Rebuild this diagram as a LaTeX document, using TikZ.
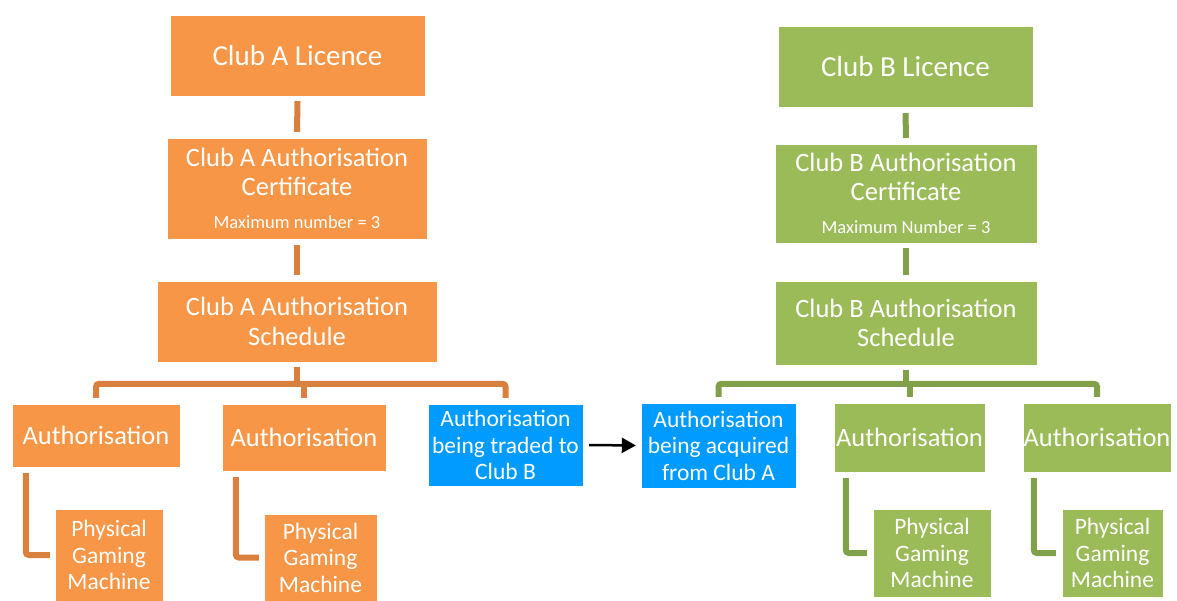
\documentclass[tikz,border=0pt]{standalone}
\usepackage{fontspec}
\setmainfont{Carlito}
\usetikzlibrary{arrows.meta}
\tikzset{>={Triangle[width=15pt,length=14pt]}}
\definecolor{orangefill}{HTML}{F79646}
\definecolor{orangeline}{HTML}{D9803F}
\definecolor{greenfill}{HTML}{9BBB59}
\definecolor{greenline}{HTML}{81A04A}
\definecolor{tradefill}{HTML}{009BFF}

\begin{document}
\begin{tikzpicture}[x=1pt, y=-1pt,
	clubbox/.style = {rectangle, inner sep=0pt, align=center, text=white, draw=white, line width=0.4pt},
	big/.style = {font=\fontsize{29}{32}\selectfont},
	mid/.style = {font=\fontsize{26.5}{29.5}\selectfont},
	sml/.style = {font=\fontsize{23.5}{26.5}\selectfont},
	abox/.style = {clubbox, fill=orangefill},
	bbox/.style = {clubbox, fill=greenfill},
	tbox/.style = {clubbox, fill=tradefill},
	alink/.style = {line width=6pt, orangeline, rounded corners=3pt},
	blink/.style = {line width=6pt, greenline, rounded corners=3pt}]
		\useasboundingbox (0,0) rectangle (1177,601);
		% Club A
		\node (licA) [abox, big, minimum width=255, minimum height=81] at (297.5,55.5) {Club A Licence};
		\node (certA) [abox, mid, minimum width=260, minimum height=101] at (297,188.5) {Club A Authorisation\\Certificate\\[3.5pt]{\fontsize{18.5}{20}\selectfont Maximum number = 3}};
		\node (schA) [abox, mid, minimum width=280, minimum height=81] at (297,321.5) {Club A Authorisation\\Schedule};
		\node (authA1) [abox, mid, minimum width=168, minimum height=63] at (96,435.5) {Authorisation};
		\node (authA2) [abox, mid, minimum width=164, minimum height=67] at (304,437.5) {Authorisation};
		\node (trade) [tbox, sml, minimum width=155, minimum height=82] at (505.5,445) {Authorisation\\being traded to\\Club B};
		\node (pgmA1) [abox, sml, minimum width=108, minimum height=92] at (109,555) {Physical\\Gaming\\Machine};
		\node (pgmA2) [abox, sml, minimum width=113, minimum height=87] at (320.5,557.5) {Physical\\Gaming\\Machine};
		% Club B
		\node (licB) [bbox, big, minimum width=255, minimum height=81] at (905.5,66.5) {Club B Licence};
		\node (certB) [bbox, mid, minimum width=262, minimum height=99] at (906,193.5) {Club B Authorisation\\Certificate\\[3.5pt]{\fontsize{18.5}{20}\selectfont Maximum Number = 3}};
		\node (schB) [bbox, mid, minimum width=262, minimum height=84] at (906,323) {Club B Authorisation\\Schedule};
		\node (acq) [tbox, sml, minimum width=155, minimum height=85] at (718.5,445.5) {Authorisation\\being acquired\\from Club A};
		\node (authB1) [bbox, mid, minimum width=151, minimum height=69] at (909.5,437.5) {Authorisation};
		\node (authB2) [bbox, mid, minimum width=148, minimum height=69] at (1097,437.5) {Authorisation};
		\node (pgmB1) [bbox, sml, minimum width=118, minimum height=88] at (932,553) {Physical\\Gaming\\Machine};
		\node (pgmB2) [bbox, sml, minimum width=101, minimum height=88] at (1112.5,553) {Physical\\Gaming\\Machine};

		% links of Club A
		\draw[alink] ([yshift=-5pt]licA.south) -- ([yshift=6pt]certA.north);
		\draw[alink] ([yshift=-6pt]certA.south) -- ([yshift=6pt]schA.north);
		\draw[alink] ([yshift=-5pt]schA.south) -- ([yshift=-23pt]schA.south);
		\draw[alink] ([yshift=6pt]authA1.north) |- ([yshift=20pt]authA2.north) -| ([yshift=6pt]trade.north);
		\draw[alink] ([yshift=6pt]authA2.north) -- ([yshift=20pt]authA2.north);
		\draw[alink] ([xshift=14pt,yshift=-6pt]authA1.south west) |- ([xshift=-5pt]pgmA1.west);
		\draw[alink] ([xshift=14pt,yshift=-6pt]authA2.south west) |- ([xshift=-5pt]pgmA2.west);
		% links of Club B
		\draw[blink] ([yshift=-6pt]licB.south) -- ([yshift=6pt]certB.north);
		\draw[blink] ([yshift=-5pt]certB.south) -- ([yshift=6pt]schB.north);
		\draw[blink] ([yshift=-5pt]schB.south) -- ([yshift=-19pt]schB.south);
		\draw[blink] ([yshift=6pt]acq.north) |- ([yshift=19pt]authB1.north) -| ([yshift=6pt]authB2.north);
		\draw[blink] ([yshift=6pt]authB1.north) -- ([yshift=19pt]authB1.north);
		\draw[blink] ([xshift=12pt,yshift=-6pt]authB1.south west) |- ([xshift=-6pt]pgmB1.west);
		\draw[blink] ([xshift=11pt,yshift=-6pt]authB2.south west) |- ([xshift=-6pt]pgmB2.west);

		% the trade
		\draw[->, line width=2.5pt] ([xshift=6pt]trade.east) -- ([xshift=-5pt]acq.west);
\end{tikzpicture}
\end{document}
